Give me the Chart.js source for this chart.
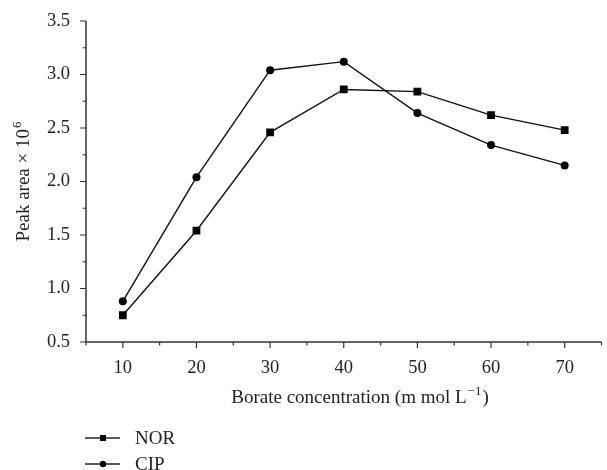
<!DOCTYPE html>
<html>
<head>
<meta charset="utf-8">
<script src="https://cdn.jsdelivr.net/npm/chart.js@4"></script>
<style>
  html, body { margin: 0; padding: 0; background: #fff; }
  #wrap { width: 607px; height: 470px; }
</style>
</head>
<body>
<div id="wrap"><canvas id="chart" width="607" height="470"></canvas></div>
<script>
// --- DATA ---
const concentrations = [10, 20, 30, 40, 50, 60, 70];
const norValues = [0.75, 1.54, 2.46, 2.86, 2.84, 2.62, 2.48];
const cipValues = [0.88, 2.04, 3.04, 3.12, 2.64, 2.34, 2.15];
const seriesNames = ['NOR', 'CIP'];
const xTickLabels = ['10', '20', '30', '40', '50', '60', '70'];
const yTickLabels = ['0.5', '1.0', '1.5', '2.0', '2.5', '3.0', '3.5'];

const FONT = '"Liberation Serif", "DejaVu Serif", serif';

function toPoints(values) {
    return concentrations.map((c, i) => ({ x: c, y: values[i] }));
}

// axis lines, major/minor ticks, titles and legend
const axesPlugin = {
    id: 'axesPlugin',
    afterDraw(chart) {
        const ctx = chart.ctx;
        const area = chart.chartArea;
        const xs = chart.scales.x;
        const ys = chart.scales.y;
        ctx.save();
        ctx.strokeStyle = '#333';
        ctx.lineWidth = 1.5;
        ctx.beginPath();
        ctx.moveTo(area.left, area.top);
        ctx.lineTo(area.left, area.bottom);
        ctx.lineTo(area.right, area.bottom);
        ctx.stroke();

        ctx.lineWidth = 1.2;
        ctx.beginPath();
        for (let v = 5; v <= 75; v += 5) {
            const px = xs.getPixelForValue(v);
            const len = v % 10 === 0 ? 6 : 3.5;
            ctx.moveTo(px, area.bottom);
            ctx.lineTo(px, area.bottom + len);
        }
        for (let v = 0.5; v <= 3.5001; v += 0.25) {
            const py = ys.getPixelForValue(v);
            const major = Math.abs(v * 2 - Math.round(v * 2)) < 1e-6;
            ctx.moveTo(area.left, py);
            ctx.lineTo(area.left - (major ? 6 : 3.5), py);
        }
        ctx.stroke();

        // y title
        ctx.fillStyle = '#222';
        ctx.save();
        ctx.translate(29, 182);
        ctx.rotate(-Math.PI / 2);
        ctx.font = '19px ' + FONT;
        const yMain = 'Peak area \u00d7 10';
        const yMainW = ctx.measureText(yMain).width;
        ctx.font = '13px ' + FONT;
        const supW = ctx.measureText('6').width;
        let sx = -(yMainW + supW) / 2;
        ctx.font = '19px ' + FONT;
        ctx.textBaseline = 'alphabetic';
        ctx.fillText(yMain, sx, 0);
        ctx.font = '13px ' + FONT;
        ctx.fillText('6', sx + yMainW + 1, -8);
        ctx.restore();

        // x title
        ctx.font = '19px ' + FONT;
        const xMain = 'Borate concentration (m mol L';
        const wMain = ctx.measureText(xMain).width;
        const wClose = ctx.measureText(')').width;
        ctx.font = '13px ' + FONT;
        const wSup = ctx.measureText('\u22121').width;
        let tx = 360 - (wMain + wSup + wClose + 2) / 2;
        ctx.font = '19px ' + FONT;
        ctx.fillText(xMain, tx, 403);
        ctx.font = '13px ' + FONT;
        ctx.fillText('\u22121', tx + wMain + 1, 395);
        ctx.font = '19px ' + FONT;
        ctx.fillText(')', tx + wMain + wSup + 2, 403);

        // legend
        const legendY = [438, 464];
        ctx.strokeStyle = '#222';
        ctx.lineWidth = 1.3;
        legendY.forEach((ly, i) => {
            ctx.beginPath();
            ctx.moveTo(85, ly);
            ctx.lineTo(120, ly);
            ctx.stroke();
            ctx.fillStyle = '#000';
            if (i === 0) {
                ctx.fillRect(100, ly - 3, 6, 6);
            } else {
                ctx.beginPath();
                ctx.arc(103, ly, 3.2, 0, Math.PI * 2);
                ctx.fill();
            }
            ctx.fillStyle = '#222';
            ctx.font = '19px ' + FONT;
            ctx.textBaseline = 'middle';
            ctx.fillText(seriesNames[i], 135, ly + 1);
            ctx.textBaseline = 'alphabetic';
        });
        ctx.restore();
    }
};

new Chart(document.getElementById('chart'), {
    type: 'line',
    data: {
        datasets: [
            {
                label: seriesNames[0],
                data: toPoints(norValues),
                borderColor: '#111',
                backgroundColor: '#000',
                borderWidth: 1.4,
                pointStyle: 'rect',
                pointRadius: 5.5,
                pointBorderWidth: 0,
                tension: 0
            },
            {
                label: seriesNames[1],
                data: toPoints(cipValues),
                borderColor: '#111',
                backgroundColor: '#000',
                borderWidth: 1.4,
                pointStyle: 'circle',
                pointRadius: 4,
                pointBorderWidth: 0,
                tension: 0
            }
        ]
    },
    options: {
        responsive: false,
        animation: false,
        layout: { padding: { left: 0, top: 21, right: 3, bottom: 0 } },
        plugins: { legend: { display: false }, tooltip: { enabled: false } },
        scales: {
            x: {
                type: 'linear',
                min: 5,
                max: 75,
                afterBuildTicks: scale => {
                    scale.ticks = concentrations.map(v => ({ value: v }));
                },
                afterFit: scale => {
                    scale.height = 128;
                    scale.paddingLeft = 0;
                    scale.paddingRight = 0;
                },
                grid: { display: false, drawTicks: false },
                border: { display: false },
                ticks: {
                    color: '#222',
                    font: { family: FONT, size: 18.5 },
                    padding: 15,
                    maxRotation: 0,
                    callback: (v, i) => xTickLabels[i]
                }
            },
            y: {
                type: 'linear',
                min: 0.5,
                max: 3.5,
                afterBuildTicks: scale => {
                    scale.ticks = yTickLabels.map(v => ({ value: parseFloat(v) }));
                },
                afterFit: scale => {
                    scale.width = 86;
                    scale.paddingTop = 0;
                    scale.paddingBottom = 0;
                },
                grid: { display: false, drawTicks: false },
                border: { display: false },
                ticks: {
                    color: '#222',
                    font: { family: FONT, size: 18.5 },
                    padding: 16,
                    callback: (v, i) => yTickLabels[i]
                }
            }
        }
    },
    plugins: [axesPlugin]
});
</script>
</body>
</html>
